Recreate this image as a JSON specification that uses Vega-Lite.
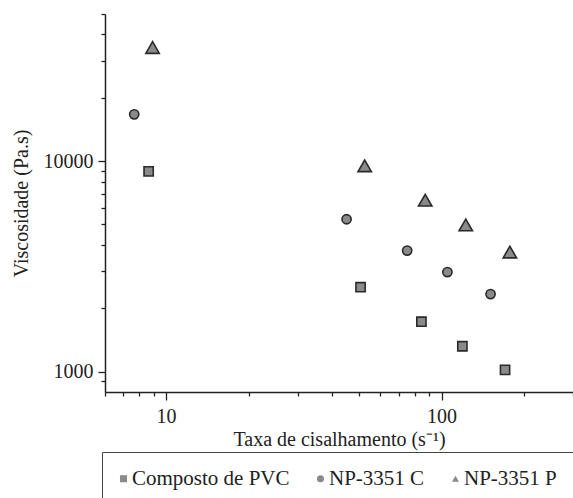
{
  "$schema": "https://vega.github.io/schema/vega-lite/v6.json",
  "width": 468,
  "height": 378,
  "autosize": "none",
  "padding": {"left": 105, "top": 14, "right": 0, "bottom": 106},
  "background": "white",
  "config": {
    "view": {"stroke": null},
    "font": "Liberation Serif",
    "axis": {"grid": false, "domainColor": "#222", "tickColor": "#222", "domainWidth": 1.5, "tickWidth": 1.3, "labelColor": "#222", "titleColor": "#222", "labelFont": "Liberation Serif", "titleFont": "Liberation Serif", "labelFontSize": 20, "titleFontSize": 20, "titleFontWeight": "normal"}
  },
  "data": {
    "values": [
      {"series": "Composto de PVC", "rate": 8.64, "visc": 8940},
      {"series": "Composto de PVC", "rate": 50.8, "visc": 2518},
      {"series": "Composto de PVC", "rate": 84.5, "visc": 1726},
      {"series": "Composto de PVC", "rate": 119, "visc": 1320},
      {"series": "Composto de PVC", "rate": 170, "visc": 1019},
      {"series": "NP-3351 C", "rate": 7.66, "visc": 16680},
      {"series": "NP-3351 C", "rate": 45.2, "visc": 5296},
      {"series": "NP-3351 C", "rate": 75, "visc": 3758},
      {"series": "NP-3351 C", "rate": 105, "visc": 2971},
      {"series": "NP-3351 C", "rate": 150.6, "visc": 2334},
      {"series": "NP-3351 P", "rate": 8.93, "visc": 34650},
      {"series": "NP-3351 P", "rate": 52.6, "visc": 9500},
      {"series": "NP-3351 P", "rate": 87.2, "visc": 6520},
      {"series": "NP-3351 P", "rate": 122.4, "visc": 4975},
      {"series": "NP-3351 P", "rate": 177, "visc": 3698}
    ]
  },
  "mark": {"type": "point", "filled": true, "fill": "#8a8a8a", "fillOpacity": 1, "stroke": "#2a2a2a", "strokeWidth": 1.6, "opacity": 1},
  "encoding": {
    "x": {
      "field": "rate", "type": "quantitative",
      "scale": {"type": "log", "domain": [6, 300], "nice": false},
      "axis": {
        "title": "Taxa de cisalhamento (s⁻¹)",
        "values": [6, 7, 8, 9, 10, 20, 30, 40, 50, 60, 70, 80, 90, 100, 200, 300],
        "labelExpr": "datum.value == 10 || datum.value == 100 ? datum.value : ''",
        "tickSize": {"condition": {"test": "datum.value == 10 || datum.value == 100", "value": 8}, "value": 4},
        "labelPadding": 6,
        "titlePadding": 3,
        "labelFlush": false
      }
    },
    "y": {
      "field": "visc", "type": "quantitative",
      "scale": {"type": "log", "domain": [800, 50000], "nice": false},
      "axis": {
        "title": "Viscosidade (Pa.s)",
        "values": [900, 1000, 2000, 3000, 4000, 5000, 6000, 7000, 8000, 9000, 10000, 20000, 30000, 40000, 50000],
        "labelExpr": "datum.value == 1000 || datum.value == 10000 ? datum.value : ''",
        "tickSize": {"condition": {"test": "datum.value == 1000 || datum.value == 10000", "value": 7}, "value": 4},
        "labelPadding": 5,
        "titlePadding": 12,
        "labelFlush": false
      }
    },
    "shape": {
      "field": "series", "type": "nominal",
      "scale": {"domain": ["Composto de PVC", "NP-3351 C", "NP-3351 P"], "range": ["square", "circle", "triangle-up"]},
      "legend": {
        "title": null,
        "orient": "none",
        "legendX": -3,
        "legendY": 438,
        "direction": "horizontal",
        "strokeColor": "#444",
        "padding": 16,
        "labelFont": "Liberation Serif",
        "labelFontSize": 21,
        "labelColor": "#222",
        "symbolOffset": -5,
        "labelOffset": -2,
        "columnPadding": 24,
        "symbolSize": 50,
        "symbolFillColor": "#8a8a8a",
        "symbolStrokeColor": "#2a2a2a",
        "symbolStrokeWidth": 1.3
      }
    },
    "size": {"condition": {"test": "datum.series == 'NP-3351 P'", "value": 180}, "value": 85}
  }
}
